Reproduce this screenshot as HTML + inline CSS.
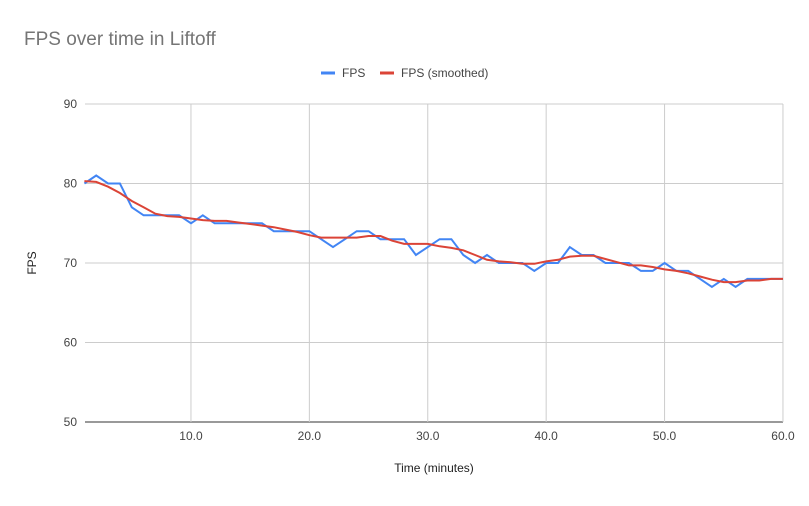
<!DOCTYPE html>
<html><head><meta charset="utf-8"><style>
body{margin:0;background:#fff;font-family:"Liberation Sans",Roboto,sans-serif}
</style></head><body>
<svg id="s" width="809" height="501" xmlns="http://www.w3.org/2000/svg" font-family="Liberation Sans, sans-serif">
<rect width="809" height="501" fill="#fff"/>
<text x="24" y="45" font-size="19" fill="#757575">FPS over time in Liftoff</text>
<line x1="321" y1="73" x2="335" y2="73" stroke="#4285f4" stroke-width="3"/>
<text x="342" y="77" font-size="12" fill="#444">FPS</text>
<line x1="380" y1="73" x2="394" y2="73" stroke="#db4437" stroke-width="3"/>
<text x="401" y="77" font-size="12" fill="#444">FPS (smoothed)</text>
<g id="grid"></g>
<text x="36" y="263" font-size="12" fill="#222" transform="rotate(-90 36 263)" text-anchor="middle">FPS</text>
<text x="434" y="472" font-size="12" fill="#222" text-anchor="middle">Time (minutes)</text>
</svg>
<script>
var s=document.getElementById('s'),g=document.getElementById('grid'),ns='http://www.w3.org/2000/svg';
function X(t){return 84.4+(t-1)*11.84}function Y(v){return 422-(v-50)*7.95}
var h='';
[90,80,70,60,50].forEach(function(v){var y=Y(v);h+='<line x1="85" x2="783" y1="'+y+'" y2="'+y+'" stroke="'+(v==50?'#333':'#ccc')+'"/>';h+='<text x="77" y="'+(y+4)+'" font-size="12" fill="#444" text-anchor="end">'+v+'</text>';});
[10,20,30,40,50,60].forEach(function(t){var x=X(t);h+='<line y1="104" y2="422" x1="'+x+'" x2="'+x+'" stroke="#ccc"/>';h+='<text x="'+x+'" y="440" font-size="12" fill="#444" text-anchor="middle">'+t+'.0</text>';});
var a=[80,81,80,80,77,76,76,76,76,75,76,75,75,75,75,75,74,74,74,74,73,72,73,74,74,73,73,73,71,72,73,73,71,70,71,70,70,70,69,70,70,72,71,71,70,70,70,69,69,70,69,69,68,67,68,67,68,68,68,68];
var b=[80.3,80.2,79.6,78.8,77.8,77,76.2,75.9,75.8,75.6,75.4,75.3,75.3,75.1,74.9,74.7,74.5,74.2,73.9,73.5,73.2,73.2,73.2,73.2,73.4,73.4,72.8,72.4,72.4,72.4,72.1,71.9,71.6,71,70.4,70.2,70.1,69.9,69.9,70.2,70.4,70.8,70.9,70.9,70.5,70.1,69.7,69.7,69.5,69.2,69,68.7,68.3,67.9,67.6,67.6,67.8,67.8,68,68];
function p(d){return d.map(function(v,i){return X(i+1).toFixed(1)+','+Y(v).toFixed(1)}).join(' ')}
h+='<polyline fill="none" stroke="#4285f4" stroke-width="2" points="'+p(a)+'"/>';
h+='<polyline fill="none" stroke="#db4437" stroke-width="2" points="'+p(b)+'"/>';
g.innerHTML=h;
</script>
</body></html>
